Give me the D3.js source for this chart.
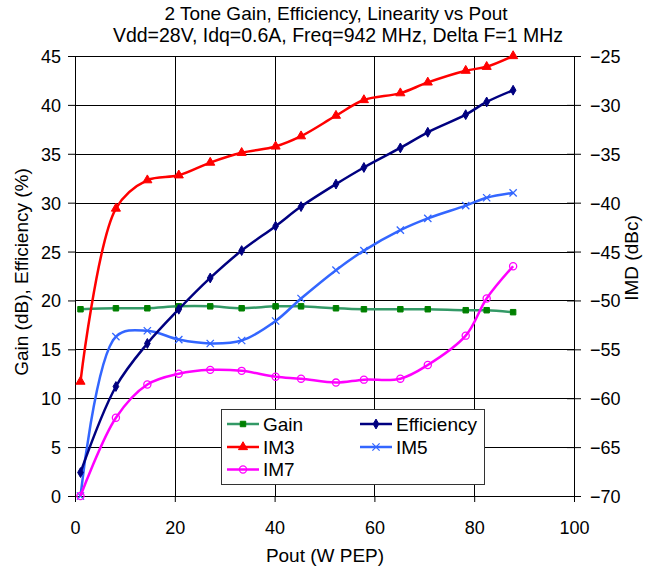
<!DOCTYPE html>
<html>
<head>
<meta charset="utf-8">
<script src="https://cdn.jsdelivr.net/npm/d3@7"></script>
<style>
  body { margin: 0; background: #fff; }
  text { font-family: "Liberation Sans", Arial, sans-serif; fill: #000; }
</style>
</head>
<body>
<div id="chart"></div>
<script>
// data
var pout = [1.1, 8.2, 14.5, 20.8, 27.1, 33.4, 40.2, 45.3, 52.3, 57.9, 65.2, 70.7, 78.3, 82.5, 87.8];
var gain = [19.1, 19.2, 19.2, 19.4, 19.4, 19.2, 19.4, 19.4, 19.2, 19.1, 19.1, 19.1, 19.0, 19.0, 18.8];
var efficiency = [2.4, 11.2, 15.6, 19.1, 22.3, 25.1, 27.6, 29.6, 31.9, 33.6, 35.6, 37.2, 39.0, 40.3, 41.5];
var im3 = [-58.3, -40.6, -37.7, -37.2, -35.9, -34.9, -34.25, -33.2, -31.1, -29.5, -28.8, -27.7, -26.5, -26.1, -25.0];
var im5 = [-70, -53.7, -53.1, -54.0, -54.4, -54.1, -52.1, -49.8, -46.9, -44.9, -42.8, -41.6, -40.3, -39.5, -39.0];
var im7 = [-70, -62.0, -58.6, -57.5, -57.1, -57.2, -57.8, -58.0, -58.4, -58.1, -58.0, -56.6, -53.6, -49.8, -46.5];

var xTicks = [0, 20, 40, 60, 80, 100];
var leftTicks = [0, 5, 10, 15, 20, 25, 30, 35, 40, 45];
var rightTicks = [-70, -65, -60, -55, -50, -45, -40, -35, -30, -25];

var width = 653,
    height = 571;

var svg = d3.select("#chart").append("svg")
    .attr("width", width)
    .attr("height", height);

var x = d3.scaleLinear().domain([0, 100]).range([75, 574]);
var yL = d3.scaleLinear().domain([0, 45]).range([496, 56]);
var yR = d3.scaleLinear().domain([-70, -25]).range([496, 56]);

// titles
svg.append("text")
    .attr("x", 336).attr("y", 20)
    .attr("text-anchor", "middle")
    .style("font-size", "19px")
    .text("2 Tone Gain, Efficiency, Linearity vs Pout");
svg.append("text")
    .attr("x", 338).attr("y", 42)
    .attr("text-anchor", "middle")
    .style("font-size", "19.5px")
    .text("Vdd=28V, Idq=0.6A, Freq=942 MHz, Delta F=1 MHz");

// grid
var grid = svg.append("g").attr("stroke", "#000").attr("stroke-width", 1).attr("shape-rendering", "crispEdges");
grid.selectAll(".hg")
    .data(leftTicks)
    .enter().append("line")
    .attr("x1", 75).attr("x2", 574)
    .attr("y1", function(d) { return Math.round(yL(d)) + 0.5; })
    .attr("y2", function(d) { return Math.round(yL(d)) + 0.5; });
grid.selectAll(".vg")
    .data(xTicks.slice(1, 5))
    .enter().append("line")
    .attr("y1", 56).attr("y2", 496)
    .attr("x1", function(d) { return Math.round(x(d)) + 0.5; })
    .attr("x2", function(d) { return Math.round(x(d)) + 0.5; });

// axes
var xAxis = svg.append("g")
    .attr("transform", "translate(0,496)")
    .call(d3.axisBottom(x).tickValues(xTicks).tickSize(6).tickSizeOuter(0));
xAxis.selectAll("text").style("font-size", "18px").attr("dy", "1.6em");

var yAxisL = svg.append("g")
    .attr("transform", "translate(75,0)")
    .call(d3.axisLeft(yL).tickValues(leftTicks).tickSize(7).tickSizeOuter(0));
yAxisL.selectAll("text").style("font-size", "18px").attr("x", -14).attr("dy", "0.36em");

var yAxisR = svg.append("g")
    .attr("transform", "translate(574,0)")
    .call(d3.axisRight(yR).tickValues(rightTicks).tickSize(7).tickSizeOuter(0));
yAxisR.selectAll("line").attr("x1", -7);
yAxisR.selectAll("text").style("font-size", "18px").attr("x", 16).attr("dy", "0.36em");

svg.selectAll(".domain").attr("stroke", "#000");
svg.selectAll(".tick line").attr("stroke", "#000");

// axis titles
svg.append("text")
    .attr("transform", "translate(28,272) rotate(-90)")
    .attr("text-anchor", "middle")
    .style("font-size", "19px")
    .text("Gain (dB), Efficiency (%)");
svg.append("text")
    .attr("transform", "translate(638,258) rotate(-90)")
    .attr("text-anchor", "middle")
    .style("font-size", "19px")
    .text("IMD (dBc)");
svg.append("text")
    .attr("x", 325).attr("y", 562)
    .attr("text-anchor", "middle")
    .style("font-size", "19px")
    .text("Pout (W PEP)");

// series
var series = [
  { name: "Gain", values: gain, y: yL, color: "#339966", markColor: "#008000", symbol: d3.symbolSquare, size: 30, fill: true },
  { name: "Efficiency", values: efficiency, y: yL, color: "#000080", markColor: "#000080", symbol: d3.symbolDiamond, size: 28, fill: true },
  { name: "IM3", values: im3, y: yR, color: "#ff0000", markColor: "#ff0000", symbol: d3.symbolTriangle, size: 36, fill: true },
  { name: "IM5", values: im5, y: yR, color: "#3366ff", markColor: "#3366ff", symbol: d3.symbolX, size: 36, fill: false },
  { name: "IM7", values: im7, y: yR, color: "#ff00ff", markColor: "#ff00ff", symbol: d3.symbolCircle, size: 40, fill: false }
];

var drawOrder = [series[0], series[2], series[3], series[1], series[4]];

drawOrder.forEach(function(s) {
  var pts = pout.map(function(p, i) { return [p, s.values[i]]; });
  var line = d3.line()
      .x(function(d) { return x(d[0]); })
      .y(function(d) { return s.y(d[1]); })
      .curve(d3.curveCatmullRom.alpha(0.5));

  svg.append("path")
      .datum(pts)
      .attr("fill", "none")
      .attr("stroke", s.color)
      .attr("stroke-width", 2.5)
      .attr("d", line);

  svg.selectAll(null)
      .data(pts)
      .enter().append("path")
      .attr("transform", function(d) { return "translate(" + x(d[0]) + "," + s.y(d[1]) + ")"; })
      .attr("d", d3.symbol().type(s.symbol).size(s.size))
      .attr("fill", s.fill ? s.markColor : "none")
      .attr("stroke", s.markColor)
      .attr("stroke-width", s.fill ? 1 : 1.3);
});

// legend
var legend = svg.append("g");
legend.append("rect")
    .attr("x", 221.5).attr("y", 409.5)
    .attr("width", 263).attr("height", 75)
    .attr("fill", "#fff")
    .attr("stroke", "#333")
    .attr("stroke-width", 1);

var legendPos = [
  [227, 424], [360, 424],
  [227, 447], [360, 447],
  [227, 469.5]
];

series.forEach(function(s, i) {
  var p = legendPos[i];
  var g = legend.append("g").attr("transform", "translate(" + p[0] + "," + p[1] + ")");
  g.append("line")
      .attr("x1", 0).attr("x2", 32)
      .attr("stroke", s.color)
      .attr("stroke-width", 2.5);
  g.append("path")
      .attr("transform", "translate(16,0)")
      .attr("d", d3.symbol().type(s.symbol).size(s.size))
      .attr("fill", s.fill ? s.markColor : "none")
      .attr("stroke", s.markColor)
      .attr("stroke-width", s.fill ? 1 : 1.3);
  g.append("text")
      .attr("x", 36).attr("dy", "0.36em")
      .style("font-size", "19px")
      .text(s.name);
});
</script>
</body>
</html>
